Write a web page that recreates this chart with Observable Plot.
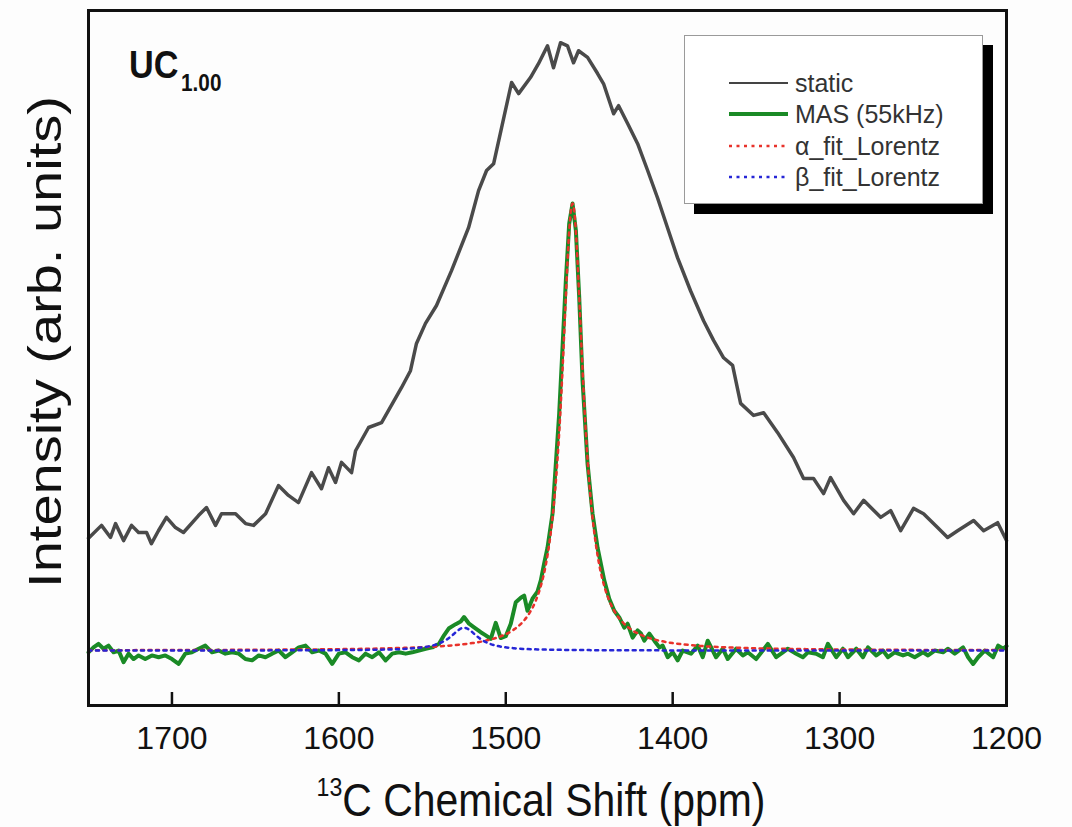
<!DOCTYPE html>
<html><head><meta charset="utf-8">
<script src="https://cdn.jsdelivr.net/npm/d3@7"></script>
<script src="https://cdn.jsdelivr.net/npm/@observablehq/plot@0.6"></script>
<style>
body{margin:0;background:#fff;}
#wrap{position:relative;width:1072px;height:827px;overflow:hidden;background:#fdfdfd;}
#chart{position:absolute;left:0;top:0;}
.lbl{position:absolute;white-space:nowrap;color:#111;line-height:1;}
#legend{position:absolute;left:684px;top:35px;width:297px;height:167px;border:1px solid #9a9a9a;background:#fff;box-shadow:10px 10px 0 #000;}
#legend .t{position:absolute;left:110px;font:25px "Liberation Sans",Arial,sans-serif;color:#333;line-height:28px;height:28px;white-space:nowrap;}
</style></head>
<body>
<div id="wrap">
  <div id="chart"></div>
  <div class="lbl" id="uc" style="left:129px;top:44px;font:bold 38px 'Liberation Sans',Arial,sans-serif;transform:scaleX(0.9);transform-origin:0 0;">UC<span style="font-size:23px;position:relative;top:13px;margin-left:3px;">1.00</span></div>
  <div id="legend">
    <svg width="297" height="167" style="position:absolute;left:0;top:0">
      <line x1="44" x2="103" y1="47" y2="47" stroke="#444" stroke-width="2"/>
      <line x1="44" x2="103" y1="78" y2="78" stroke="#1a8a26" stroke-width="4"/>
      <line x1="44" x2="103" y1="110" y2="110" stroke="#e8322b" stroke-width="2.5" stroke-dasharray="3,4.5"/>
      <line x1="44" x2="103" y1="141" y2="141" stroke="#2626d6" stroke-width="2.5" stroke-dasharray="3,4.5"/>
    </svg>
    <div class="t" style="top:33px">static</div>
    <div class="t" style="top:64px">MAS (55kHz)</div>
    <div class="t" style="top:96px">α_fit_Lorentz</div>
    <div class="t" style="top:127px">β_fit_Lorentz</div>
  </div>
  <div class="lbl" id="ylab" style="left:45px;top:342px;font:56px 'Liberation Sans',Arial,sans-serif;transform:translate(-50%,-50%) rotate(-90deg) scaleY(0.82);">Intensity (arb. units)</div>
  <div class="lbl" id="xlab" style="left:541px;top:800px;font:46px 'Liberation Sans',Arial,sans-serif;transform:translate(-50%,-50%) scaleX(0.89);"><span style="font-size:26px;position:relative;top:-20px;">13</span>C Chemical Shift (ppm)</div>
</div>
<script>
// ---- data (ppm, intensity in arbitrary units; MAS peak = 100) ----
const xTicks = [1700, 1600, 1500, 1400, 1300, 1200];

const staticShift = [1750.0,1742.2,1736.8,1733.8,1729.0,1724.2,1720.0,1715.2,1712.3,1708.1,1703.3,1697.9,1693.1,1684.1,1679.3,1673.9,1670.3,1661.9,1655.9,1651.1,1643.9,1636.2,1630.2,1624.2,1616.4,1610.4,1606.2,1602.0,1598.4,1592.4,1590.0,1582.2,1574.4,1562.5,1557.1,1553.5,1548.1,1541.5,1532.5,1522.3,1516.3,1511.5,1507.3,1502.5,1496.5,1492.3,1485.2,1480.4,1475.0,1471.4,1467.2,1463.0,1459.4,1456.4,1451.0,1445.0,1441.4,1435.4,1432.4,1427.0,1421.0,1415.0,1409.1,1403.1,1397.1,1389.3,1381.5,1375.5,1369.5,1364.1,1359.3,1351.5,1345.5,1337.2,1327.6,1321.6,1315.6,1309.6,1305.4,1297.6,1291.6,1285.6,1275.4,1269.4,1263.4,1255.7,1249.7,1241.3,1235.3,1229.3,1219.7,1213.7,1205.3,1200.0];
const staticIntensity = [25.1,28.0,25.3,28.4,24.6,28.0,26.4,26.4,23.9,26.8,29.8,27.5,26.4,30.2,32.0,28.0,30.6,30.6,28.4,28.0,30.6,36.9,34.7,33.1,39.8,36.2,40.9,37.6,42.1,39.8,44.7,49.9,51.0,58.8,62.6,68.7,73.2,77.2,85.0,94.6,102.9,107.4,108.9,117.0,127.1,124.6,128.2,131.3,135.3,130.4,136.0,135.3,131.5,134.2,132.7,129.1,126.8,120.1,121.9,117.9,113.4,107.4,101.3,94.6,87.9,80.5,73.8,69.4,65.5,63.8,55.3,52.6,53.2,48.8,43.2,38.5,38.5,35.1,38.7,33.6,30.6,33.6,29.8,31.3,26.8,31.8,30.6,27.5,25.3,26.8,29.1,26.8,28.6,24.6];

const masShift = [1750,1747,1744,1741,1738,1735,1732,1729,1726,1723,1720,1716,1712,1708,1704,1700,1696,1692,1688,1684,1680,1676,1672,1668,1664,1660,1656,1652,1648,1644,1640,1636,1632,1628,1624,1620,1616,1612,1608,1604,1600,1596,1592,1588,1584,1580,1576,1572,1568,1564,1560,1556,1552,1548,1544,1540,1537,1534,1530,1527,1525,1522,1519,1515,1512,1509,1506,1503,1500,1497,1494,1491,1489,1487,1484,1481,1479,1477,1475,1472,1470,1468,1466,1464,1462,1460,1458,1456,1454,1451,1448,1445,1441,1438,1435,1432,1429,1427,1424,1421,1419,1417,1414,1411,1408,1406,1403,1400,1397,1394,1389,1385,1382,1379,1374,1370,1367,1362,1358,1355,1350,1346,1343,1338,1334,1331,1326,1322,1319,1314,1310,1307,1302,1298,1295,1290,1286,1283,1278,1274,1271,1267,1262,1259,1255,1250,1247,1243,1238,1235,1231,1226,1223,1220,1217,1213,1208,1205,1202,1200];
const masIntensity = [-0.4,0.7,1.5,0.4,1.1,-0.4,0.0,-2.6,-0.7,-1.9,-1.1,-1.9,-1.1,-1.5,-1.1,-1.9,-3.0,-0.7,-0.4,0.4,1.1,-0.4,0.0,-0.7,-0.4,-0.7,-1.9,-2.2,-1.1,-1.5,-0.7,0.0,-1.5,-0.4,0.7,1.1,-0.4,0.0,-0.7,-3.0,-0.7,-0.4,-1.5,-2.2,-0.7,-1.5,-0.4,-2.2,-0.7,-0.4,-0.7,-0.4,0.0,0.4,0.7,1.5,3.4,5.0,5.9,6.5,7.5,6.0,5.2,4.1,3.4,2.6,6.2,2.8,3.2,6.0,10.8,11.8,12.3,8.9,11.6,13.2,15.7,19.5,23.0,30.6,41.8,53.0,67.8,82.8,95.5,100.0,94.0,79.0,60.4,41.8,30.6,23.0,15.7,11.6,8.9,7.4,5.1,6.0,2.9,4.5,3.8,2.2,3.8,2.2,0.7,1.1,-1.5,-0.4,-2.2,0.0,-0.7,1.1,-1.5,2.2,-1.5,0.4,-1.9,0.4,-1.1,-0.4,-1.9,0.0,1.5,-1.5,-0.4,0.4,-0.7,-1.5,-0.4,-0.7,-1.5,1.5,-1.5,0.4,-1.5,0.4,-1.5,0.7,-1.1,0.0,-1.5,-0.4,-1.1,-0.7,-1.5,-0.4,-1.1,0.0,-0.4,0.4,-0.7,0.7,-1.5,-3.0,-1.5,0.0,-1.5,1.1,0.4,1.0];

const alphaShift = [1750,1700,1650,1600,1570,1550,1540,1530,1520,1510,1505,1500,1495,1490,1486,1482,1479,1476,1474,1472,1470,1468,1466,1464,1462,1461,1460,1459,1458,1456,1454,1452,1450,1448,1446,1444,1441,1438,1434,1430,1425,1420,1415,1410,1400,1390,1380,1370,1350,1320,1270,1220,1200];
const alphaIntensity = [0.07,0.11,0.17,0.31,0.50,0.75,0.94,1.23,1.66,2.38,2.92,3.66,4.73,6.33,8.26,11.17,14.43,19.2,23.7,29.7,37.8,48.7,62.8,79.2,93.8,98.4,100.0,98.4,93.8,79.2,62.8,48.7,37.8,29.7,23.7,19.2,14.43,11.17,8.26,6.33,4.73,3.66,2.92,2.38,1.66,1.23,0.94,0.75,0.50,0.31,0.17,0.11,0.09];

const betaShift = [1750,1650,1600,1570,1555,1545,1540,1535,1532,1529,1527,1525,1523,1521,1518,1515,1510,1505,1495,1480,1450,1400,1300,1200];
const betaIntensity = [0.01,0.03,0.09,0.24,0.51,1.02,1.57,2.55,3.42,4.40,4.90,5.10,4.90,4.40,3.42,2.55,1.57,1.02,0.51,0.24,0.09,0.03,0.01,0.005];

const zipXY = (xs, ys) => xs.map((x, i) => ({x, y: ys[i]}));
const staticData = zipXY(staticShift, staticIntensity);
const masData = zipXY(masShift, masIntensity);
const alphaData = zipXY(alphaShift, alphaIntensity);
const betaData = zipXY(betaShift, betaIntensity);

const chart = Plot.plot({
  width: 1072,
  height: 760,
  marginLeft: 88,
  marginRight: 66,
  marginTop: 10,
  marginBottom: 55,
  style: {background: "transparent", color: "#111"},
  x: {domain: [1750, 1200]},
  y: {domain: [-12.3, 143.2], axis: null},
  marks: [
    Plot.line(staticData, {x: "x", y: "y", stroke: "#4a4a4a", strokeWidth: 3.5}),
    Plot.line(masData, {x: "x", y: "y", stroke: "#1a8a26", strokeWidth: 4}),
    Plot.line(alphaData, {x: "x", y: "y", stroke: "#e8322b", strokeWidth: 2.5, strokeDasharray: "3,4.5", curve: "monotone-x"}),
    Plot.line(betaData, {x: "x", y: "y", stroke: "#2626d6", strokeWidth: 2.5, strokeDasharray: "3,4.5", curve: "monotone-x"}),
    Plot.tickX(xTicks, {x: d => d, insetTop: 682, stroke: "#111", strokeWidth: 2.5}),
    Plot.axisX({ticks: xTicks, tickSize: 0, tickPadding: 21, tickFormat: d => `${d}`, fontSize: 32, fontFamily: "'Liberation Sans',Arial,sans-serif", label: null}),
    Plot.frame({stroke: "#111", strokeWidth: 3})
  ]
});
document.getElementById("chart").appendChild(chart);
</script>
</body></html>
